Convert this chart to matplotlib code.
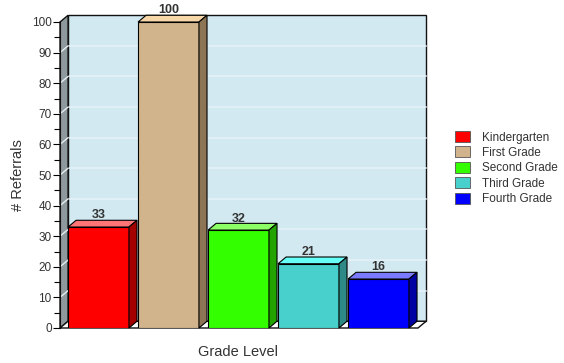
import matplotlib
matplotlib.use('Agg')
import matplotlib.pyplot as plt
from matplotlib.patches import Polygon, Patch

plt.rcParams['font.family'] = ['Liberation Sans', 'DejaVu Sans']

grades = ['Kindergarten', 'First Grade', 'Second Grade', 'Third Grade', 'Fourth Grade']
referrals = [33, 100, 32, 21, 16]
front_colors = ['#FF0000', '#D2B48C', '#33FF00', '#48D1CC', '#0000FF']
top_colors = ['#FF7474', '#F7D7A8', '#8CFF66', '#66FFF8', '#7A7AFF']
side_colors = ['#A30000', '#8C7455', '#22A300', '#2E8A86', '#0000A3']
y_ticks = list(range(0, 101, 10))

# 3D depth of the chart box, in data units
dx, dy = 0.115, 2.2
bar_w = 0.87
x_lo, x_hi = -0.55, 4.564
y_top = 100

fig = plt.figure(figsize=(5.64, 3.63), dpi=100)
ax = fig.add_axes([60 / 564, 35 / 363, 358 / 564, 306 / 363])
ax.set_xlim(x_lo, x_hi)
ax.set_ylim(0, y_top)
ax.patch.set_visible(False)

# back wall, left wall and floor
ax.add_patch(Polygon([(x_lo + dx, dy), (x_hi + dx, dy), (x_hi + dx, y_top + dy),
                      (x_lo + dx, y_top + dy)], closed=True, facecolor='#D2E9F1',
                     edgecolor='#111111', lw=1.0, clip_on=False, zorder=0))
ax.add_patch(Polygon([(x_lo, 0), (x_lo + dx, dy), (x_lo + dx, y_top + dy), (x_lo, y_top)],
                     closed=True, facecolor='#8E999E', edgecolor='#111111', lw=1.0,
                     clip_on=False, zorder=0.5))
ax.add_patch(Polygon([(x_lo, 0), (x_hi, 0), (x_hi + dx, dy), (x_lo + dx, dy)],
                     closed=True, facecolor='white', edgecolor='#111111', lw=1.0,
                     clip_on=False, zorder=0.6))

# grid lines on the walls
for t in y_ticks[1:-1]:
    ax.plot([x_lo + dx, x_hi + dx], [t + dy, t + dy], color='#E6F3F8', lw=1.1,
            zorder=0.3, clip_on=False)
    ax.plot([x_lo, x_lo + dx], [t, t + dy], color='#E8EEF0', lw=1.0,
            zorder=0.7, clip_on=False)

# bars with top and side faces
for i, (v, fc, tc, sc) in enumerate(zip(referrals, front_colors, top_colors, side_colors)):
    l, r = i - bar_w / 2, i + bar_w / 2
    ax.bar(i, v, width=bar_w, color=fc, edgecolor='black', linewidth=0.8, zorder=2)
    ax.add_patch(Polygon([(l, v), (r, v), (r + dx, v + dy), (l + dx, v + dy)], closed=True,
                         facecolor=tc, edgecolor='black', lw=0.8, zorder=2, clip_on=False))
    ax.add_patch(Polygon([(r, 0), (r + dx, dy), (r + dx, v + dy), (r, v)], closed=True,
                         facecolor=sc, edgecolor='black', lw=0.8, zorder=2, clip_on=False))
    ax.text(i, v + dy + 0.6, str(v), ha='center', va='baseline', fontsize=9,
            fontweight='bold', color='#333333', zorder=3, clip_on=False)

for side in ['top', 'right', 'bottom']:
    ax.spines[side].set_visible(False)
ax.spines['left'].set_color('#111111')
ax.spines['left'].set_zorder(1)
ax.set_xticks([])
ax.set_yticks(y_ticks)
ax.set_yticks(range(5, 100, 10), minor=True)
ax.tick_params(axis='y', which='major', length=5, width=0.8, labelsize=8.5,
               labelcolor='#333333', pad=1)
ax.tick_params(axis='y', which='minor', length=4, width=0.8)

fig.text(18 / 564, 1 - 175 / 363, '# Referrals', rotation=90, ha='center', va='center',
         fontsize=10.5, color='#333333')
fig.text(238 / 564, 1 - 352 / 363, 'Grade Level', ha='center', va='center',
         fontsize=10.5, color='#333333')

handles = [Patch(facecolor=c, edgecolor='#555555', lw=0.6) for c in front_colors]
fig.legend(handles, grades, loc='upper left', bbox_to_anchor=(455 / 564, 1 - 131 / 363),
           frameon=False, fontsize=8.5, handlelength=1.25, handleheight=1.05,
           labelspacing=0.25, handletextpad=1.0, borderaxespad=0, borderpad=0,
           labelcolor='#333333')

fig.savefig('out.png', dpi=100)
